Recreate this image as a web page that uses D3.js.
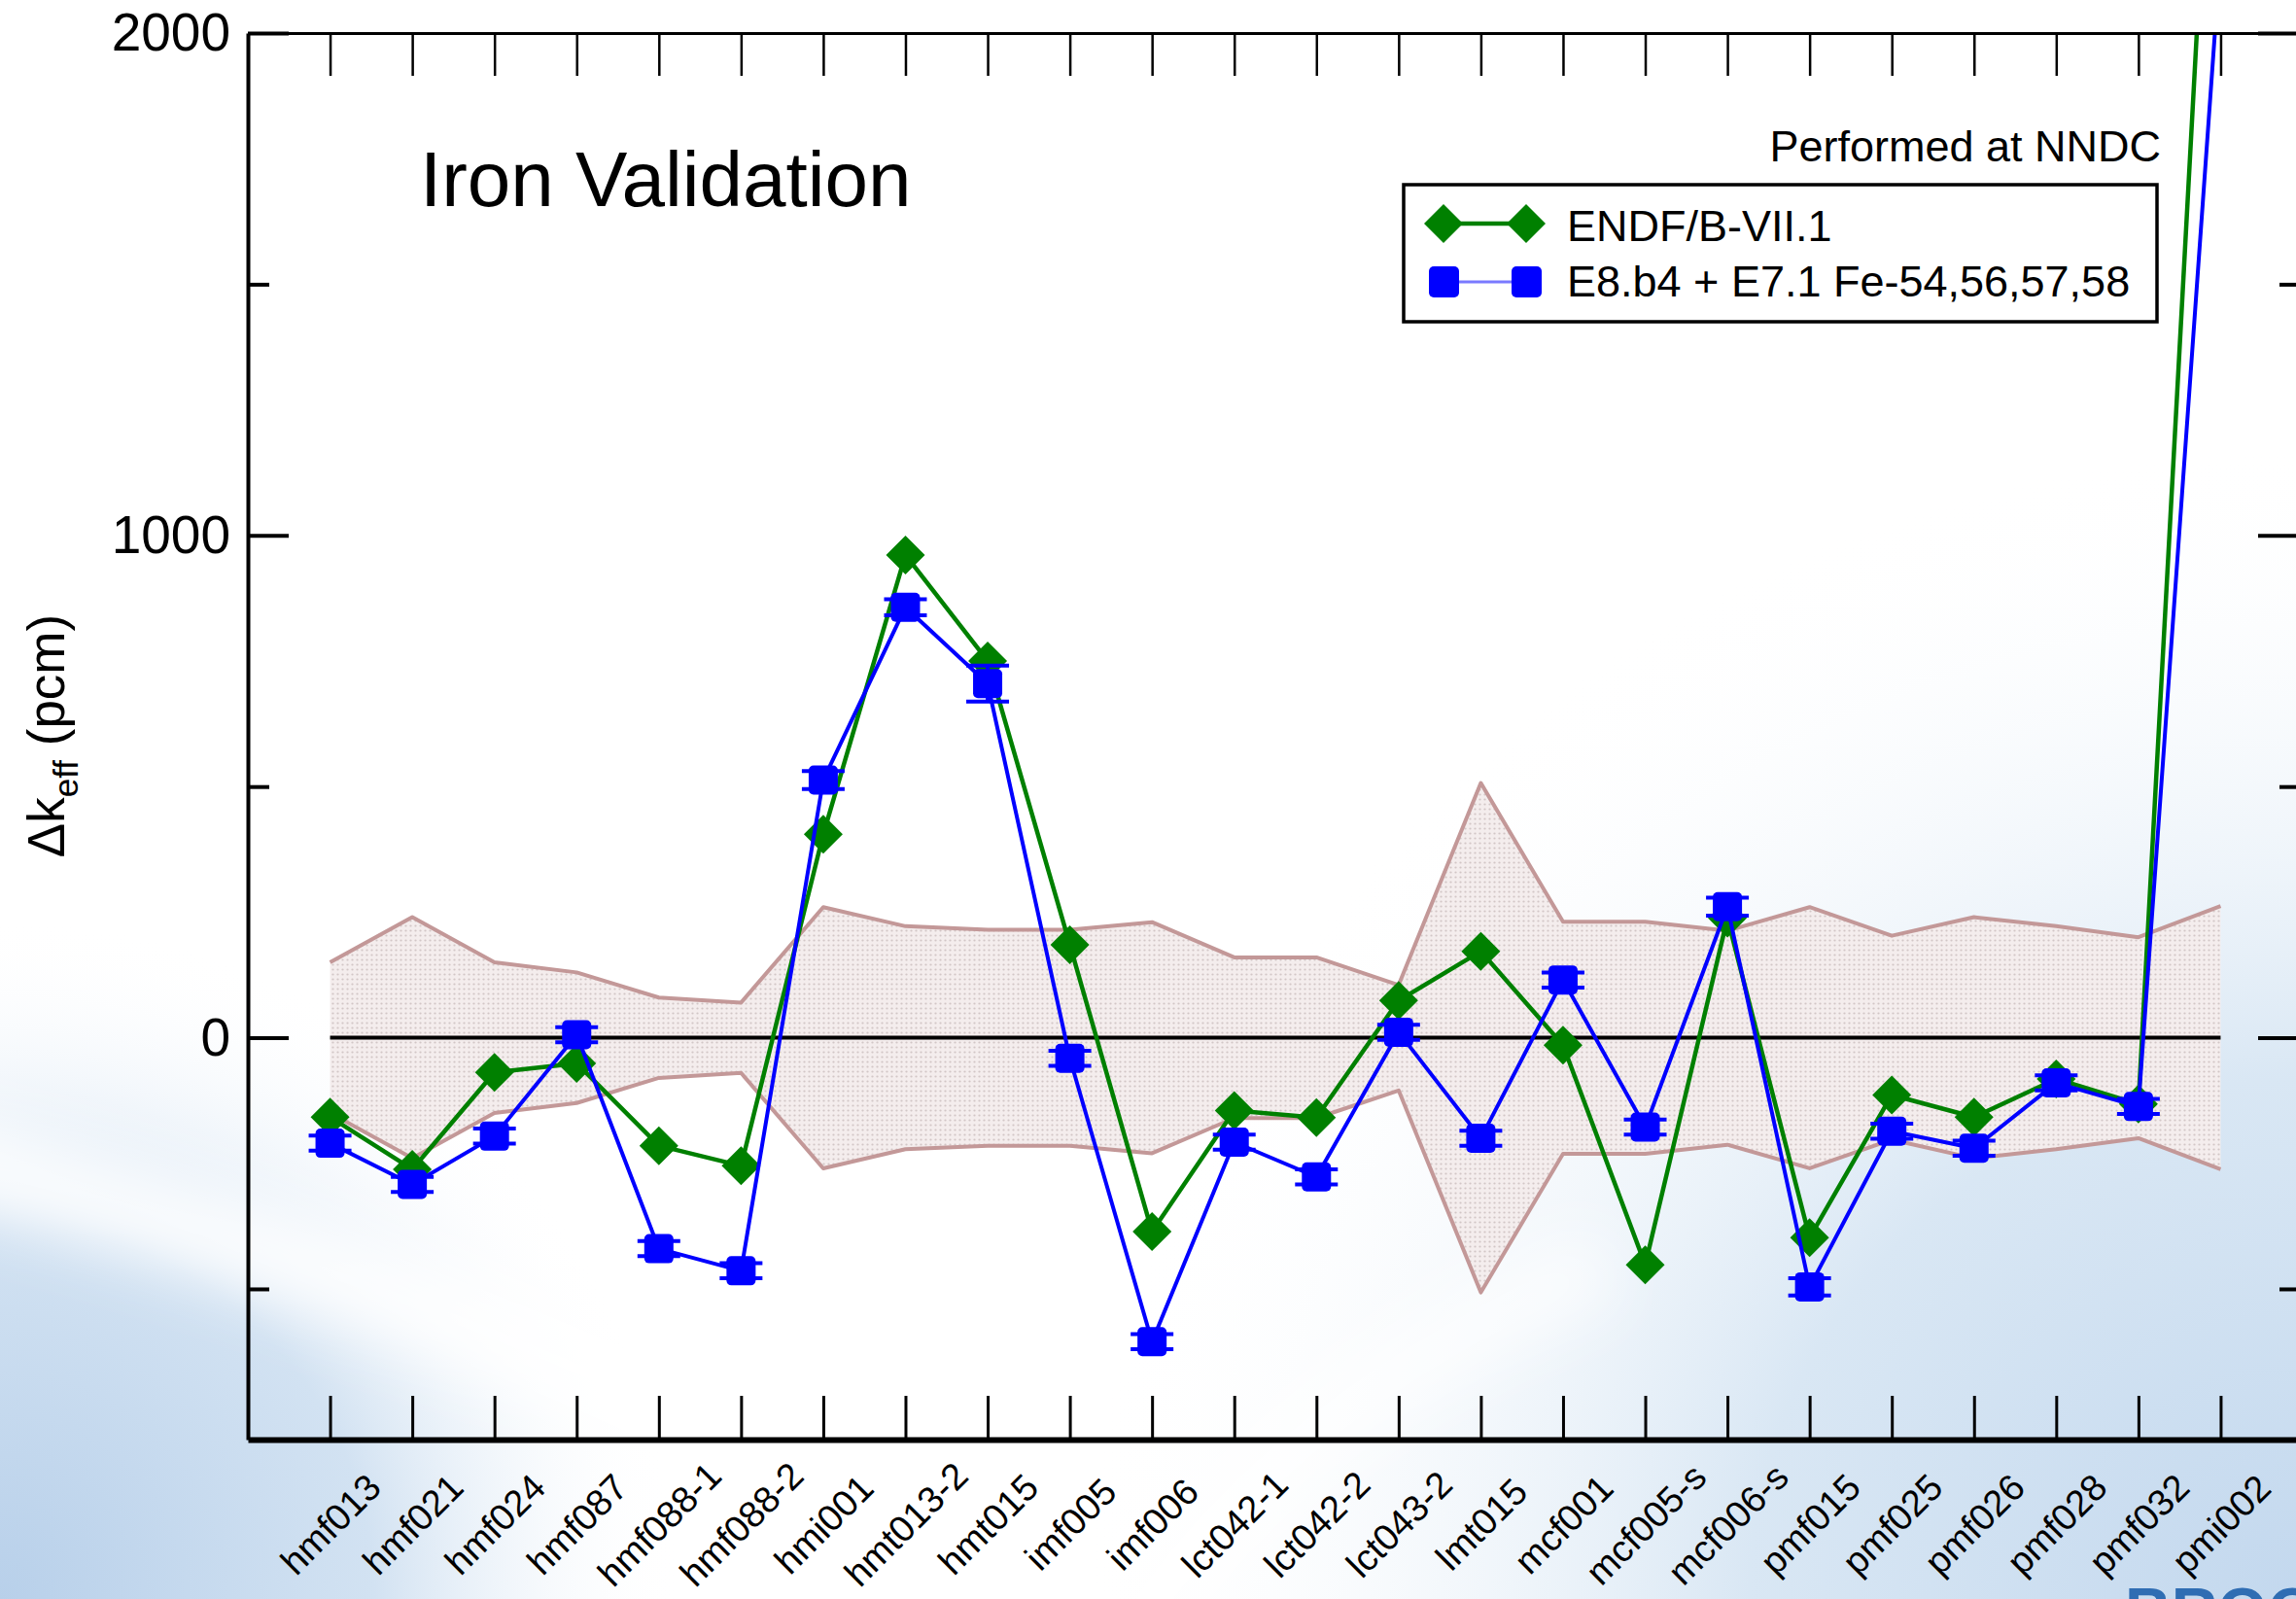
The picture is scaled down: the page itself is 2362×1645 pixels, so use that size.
<!DOCTYPE html>
<html>
<head>
<meta charset="utf-8">
<script src="https://cdn.jsdelivr.net/npm/d3@7"></script>
<style>
  body { margin: 0; background: #fff; }
  svg { display: block; }
  text { font-family: "Liberation Sans", Arial, Helvetica, sans-serif; fill: #000; }
</style>
</head>
<body>
<svg id="chart" width="2362" height="1645"></svg>
<script>
// Benchmark cases (ICSBEP short names)
const categories = ["hmf013", "hmf021", "hmf024", "hmf087", "hmf088-1", "hmf088-2", "hmi001",
  "hmt013-2", "hmt015", "imf005", "imf006", "lct042-1", "lct042-2", "lct043-2", "lmt015",
  "mcf001", "mcf005-s", "mcf006-s", "pmf015", "pmf025", "pmf026", "pmf028", "pmf032", "pmi002"];

// C/E - 1 in pcm
const endf71 = [-158, -262, -69, -51, -215, -255, 405, 961, 750, 185, -386, -145, -159, 74, 172,
  -15, -452, 238, -398, -114, -158, -82, -132, 2870];
const e8b4 = [-210, -292, -196, 6, -420, -464, 513, 857, 705, -41, -605, -208, -277, 11, -200,
  115, -178, 261, -496, -186, -220, -90, -137, 2160];
// statistical uncertainty of the E8.b4 runs (pcm)
const e8b4Err = [15, 15, 15, 15, 15, 15, 18, 16, 36, 15, 15, 15, 15, 15, 15, 15, 15, 18, 17, 15, 15, 15, 15, 15];
// benchmark experimental uncertainty (pcm), drawn as a symmetric band
const benchUnc = [150, 240, 150, 130, 80, 70, 260, 222, 215, 215, 230, 160, 160, 105, 507, 231, 231,
  213, 260, 203, 240, 222, 200, 262];

const yTicks = [-500, 0, 500, 1000, 1500, 2000];
const yLabeled = [0, 1000, 2000];

const seriesNames = ["ENDF/B-VII.1", "E8.b4 + E7.1 Fe-54,56,57,58"];
const GREEN = "#008000", BLUE = "#0000ff";

const svg = d3.select("#chart");
const W = 2362, H = 1645;
const M = { left: 255, right: 2369, top: 34, bottom: 1481 };

const x = d3.scaleLinear().domain([-1, categories.length]).range([M.left, M.right]);
const y = d3.scaleLinear().domain([-800, 2000]).range([M.bottom, M.top]);
const idx = d3.range(categories.length);

// ---------- defs ----------
const defs = svg.append("defs");

const gR = defs.append("radialGradient").attr("id", "bgRight")
  .attr("gradientUnits", "userSpaceOnUse").attr("cx", W).attr("cy", H).attr("r", 1250)
  .attr("gradientTransform", `translate(${W},${H}) scale(1,0.95) translate(${-W},${-H})`);
gR.append("stop").attr("offset", 0).attr("stop-color", "#c3d8ee");
gR.append("stop").attr("offset", 0.45).attr("stop-color", "#d9e7f4");
gR.append("stop").attr("offset", 1).attr("stop-color", "#ffffff").attr("stop-opacity", 0);

const gL2 = defs.append("radialGradient").attr("id", "bgLeft")
  .attr("gradientUnits", "userSpaceOnUse").attr("cx", 0).attr("cy", H).attr("r", 700);
gL2.append("stop").attr("offset", 0).attr("stop-color", "#b8d0ea");
gL2.append("stop").attr("offset", 0.55).attr("stop-color", "#d2e2f2");
gL2.append("stop").attr("offset", 1).attr("stop-color", "#ffffff").attr("stop-opacity", 0);

defs.append("filter").attr("id", "soft").attr("x", "-20%").attr("y", "-20%")
  .attr("width", "140%").attr("height", "140%")
  .append("feGaussianBlur").attr("stdDeviation", 30);

const pat = defs.append("pattern").attr("id", "bandFill").attr("patternUnits", "userSpaceOnUse")
  .attr("width", 5).attr("height", 5);
pat.append("rect").attr("width", 5).attr("height", 5).attr("fill", "#f4eded");
pat.append("circle").attr("cx", 2.5).attr("cy", 2.5).attr("r", 1.1).attr("fill", "#d2c6c6");

defs.append("clipPath").attr("id", "plotClip").append("rect")
  .attr("x", M.left).attr("y", M.top).attr("width", M.right - M.left).attr("height", M.bottom - M.top);

// ---------- background ----------
svg.append("rect").attr("width", W).attr("height", H).attr("fill", "#fff");
svg.append("rect").attr("width", W).attr("height", H).attr("fill", "url(#bgRight)");
svg.append("rect").attr("width", W).attr("height", H).attr("fill", "url(#bgLeft)");
svg.append("path")
  .attr("d", `M -100 1180 Q 500 1330 900 1560 T 1500 1760`)
  .attr("fill", "none").attr("stroke", "#ffffff").attr("stroke-width", 90)
  .attr("stroke-opacity", 0.85).attr("filter", "url(#soft)");
svg.append("path")
  .attr("d", `M 1150 1700 Q 1300 1450 1650 1300`)
  .attr("fill", "none").attr("stroke", "#ffffff").attr("stroke-width", 70)
  .attr("stroke-opacity", 0.7).attr("filter", "url(#soft)");

// logo lettering running off the bottom edge
svg.append("text").attr("x", 2186).attr("y", 1680)
  .attr("font-size", 66).attr("font-weight", "bold").style("fill", "#2f6db3")
  .text("BROOKHAVEN");

// ---------- uncertainty band ----------
const band = svg.append("g").attr("clip-path", "url(#plotClip)");
band.append("path").datum(benchUnc)
  .attr("d", d3.area().x((d, i) => x(i)).y0(d => y(-d)).y1(d => y(d)))
  .attr("fill", "url(#bandFill)");
const edgeStyle = sel => sel.attr("fill", "none").attr("stroke", "#c39898").attr("stroke-width", 4)
  .attr("stroke-linejoin", "round");
band.append("path").datum(benchUnc)
  .attr("d", d3.line().x((d, i) => x(i)).y(d => y(d))).call(edgeStyle);
band.append("path").datum(benchUnc)
  .attr("d", d3.line().x((d, i) => x(i)).y(d => y(-d))).call(edgeStyle);

// zero reference line
svg.append("line").attr("x1", x(0)).attr("x2", x(categories.length - 1))
  .attr("y1", y(0)).attr("y2", y(0)).attr("stroke", "#000").attr("stroke-width", 4);

// ---------- series ----------
const plot = svg.append("g").attr("clip-path", "url(#plotClip)");
const lineGen = d3.line().x((d, i) => x(i)).y(d => y(d));

const diamond = d3.symbol(d3.symbolSquare, 800)();

// ENDF/B-VII.1
plot.append("path").datum(endf71).attr("d", lineGen)
  .attr("fill", "none").attr("stroke", GREEN).attr("stroke-width", 4.5).attr("stroke-linejoin", "round");
plot.selectAll("path.gm").data(endf71).join("path").attr("class", "gm")
  .attr("d", diamond)
  .attr("transform", (d, i) => `translate(${x(i)},${y(d)}) rotate(45)`)
  .attr("fill", GREEN);

// E8.b4
plot.append("path").datum(e8b4).attr("d", lineGen)
  .attr("fill", "none").attr("stroke", BLUE).attr("stroke-width", 4).attr("stroke-linejoin", "round");
const eb = plot.selectAll("g.eb").data(e8b4).join("g").attr("class", "eb");
eb.append("line")
  .attr("x1", (d, i) => x(i)).attr("x2", (d, i) => x(i))
  .attr("y1", (d, i) => y(d - e8b4Err[i])).attr("y2", (d, i) => y(d + e8b4Err[i]))
  .attr("stroke", BLUE).attr("stroke-width", 4);
[-1, 1].forEach(s => {
  eb.append("line")
    .attr("x1", (d, i) => x(i) - 22).attr("x2", (d, i) => x(i) + 22)
    .attr("y1", (d, i) => y(d + s * e8b4Err[i])).attr("y2", (d, i) => y(d + s * e8b4Err[i]))
    .attr("stroke", BLUE).attr("stroke-width", 4);
});
eb.append("rect")
  .attr("x", (d, i) => x(i) - 15).attr("y", d => y(d) - 15)
  .attr("width", 30).attr("height", 30).attr("rx", 5)
  .attr("fill", BLUE);

// ---------- axes ----------
function styleAxis(g, w) {
  g.attr("font-family", null).attr("font-size", null);
  g.select(".domain").attr("stroke", "#000").attr("stroke-width", w);
  g.selectAll(".tick line").attr("stroke", "#000");
}

const gBottom = svg.append("g").attr("transform", `translate(0,${M.bottom})`)
  .call(d3.axisBottom(x).tickValues(idx).tickSizeInner(-45).tickSizeOuter(0)
    .tickFormat(i => categories[i]));
styleAxis(gBottom, 6);
gBottom.selectAll(".tick line").attr("stroke-width", 3);
gBottom.selectAll(".tick text")
  .attr("y", 0).attr("dy", "0.35em")
  .attr("text-anchor", "middle")
  .attr("transform", "translate(0,87) rotate(-45)")
  .style("font-size", "38px");

const gTop = svg.append("g").attr("transform", `translate(0,${M.top})`)
  .call(d3.axisTop(x).tickValues(idx).tickSizeInner(-44).tickSizeOuter(0).tickFormat(""));
styleAxis(gTop, 3);
gTop.selectAll(".tick line").attr("stroke-width", 2.5);

const gLeft = svg.append("g").attr("transform", `translate(${M.left},0)`)
  .call(d3.axisLeft(y).tickValues(yTicks).tickSizeInner(-42).tickSizeOuter(0).tickPadding(18)
    .tickFormat(d => yLabeled.includes(d) ? d : ""));
styleAxis(gLeft, 4);
gLeft.selectAll(".tick line").attr("x2", d => yLabeled.includes(d) ? 42 : 22).attr("stroke-width", 4);
gLeft.selectAll(".tick text").style("font-size", "55px");

const gRight = svg.append("g").attr("transform", `translate(${M.right},0)`)
  .call(d3.axisRight(y).tickValues(yTicks).tickSizeInner(-44).tickSizeOuter(0).tickFormat(""));
styleAxis(gRight, 4);
gRight.selectAll(".tick line").attr("x2", d => yLabeled.includes(d) ? -46 : -24).attr("stroke-width", 4);

// y-axis title
const yt = svg.append("text")
  .attr("transform", `translate(66,757) rotate(-90)`)
  .attr("text-anchor", "middle").style("font-size", "53px");
yt.append("tspan").text("\u0394k");
yt.append("tspan").attr("dy", 14).style("font-size", "35px").text("eff");
yt.append("tspan").attr("dy", -14).text(" (pcm)");

// ---------- annotations ----------
svg.append("text").attr("x", 432).attr("y", 212).style("font-size", "80px").text("Iron Validation");
svg.append("text").attr("x", 2223).attr("y", 166).attr("text-anchor", "end")
  .style("font-size", "45px").text("Performed at NNDC");

// ---------- legend ----------
const lg = svg.append("g");
lg.append("rect").attr("x", 1444).attr("y", 190).attr("width", 775).attr("height", 141)
  .attr("fill", "none").attr("stroke", "#000").attr("stroke-width", 3.5);

const r1 = 230, r2 = 290, lx1 = 1485, lx2 = 1570;
lg.append("line").attr("x1", lx1).attr("x2", lx2).attr("y1", r1).attr("y2", r1)
  .attr("stroke", GREEN).attr("stroke-width", 4.5);
[lx1, lx2].forEach(px => lg.append("path").attr("d", diamond)
  .attr("transform", `translate(${px},${r1}) rotate(45)`).attr("fill", GREEN));
lg.append("line").attr("x1", lx1).attr("x2", lx2).attr("y1", r2).attr("y2", r2)
  .attr("stroke", "#7a7aff").attr("stroke-width", 3);
[lx1, lx2].forEach(px => lg.append("rect").attr("x", px - 15).attr("y", r2 - 16)
  .attr("width", 31).attr("height", 32).attr("rx", 5).attr("fill", BLUE));

lg.append("text").attr("x", 1612).attr("y", 248).style("font-size", "45px").text(seriesNames[0]);
lg.append("text").attr("x", 1612).attr("y", 305).style("font-size", "45px").text(seriesNames[1]);
</script>
</body>
</html>
